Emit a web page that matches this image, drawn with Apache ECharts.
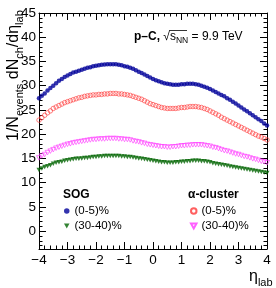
<!DOCTYPE html>
<html><head><meta charset="utf-8">
<script src="https://cdn.jsdelivr.net/npm/echarts@6/dist/echarts.min.js"></script>
<style>html,body{margin:0;padding:0;background:#fff}#c{width:276px;height:288px}</style>
</head><body><div id="c"></div>
<script>
// eta_lab grid
const eta = [-4.0,-3.9,-3.8,-3.7,-3.6,-3.5,-3.4,-3.3,-3.2,-3.1,-3.0,-2.9,-2.8,-2.7,-2.6,-2.5,-2.4,-2.3,-2.2,-2.1,-2.0,-1.9,-1.8,-1.7,-1.6,-1.5,-1.4,-1.3,-1.2,-1.1,-1.0,-0.9,-0.8,-0.7,-0.6,-0.5,-0.4,-0.3,-0.2,-0.1,0.0,0.1,0.2,0.3,0.4,0.5,0.6,0.7,0.8,0.9,1.0,1.1,1.2,1.3,1.4,1.5,1.6,1.7,1.8,1.9,2.0,2.1,2.2,2.3,2.4,2.5,2.6,2.7,2.8,2.9,3.0,3.1,3.2,3.3,3.4,3.5,3.6,3.7,3.8,3.9,4.0];
// SOG (0-5)%
const sogCentral = [27.4,27.9,28.4,29.0,29.5,30.0,30.5,31.0,31.4,31.8,32.1,32.4,32.7,32.9,33.1,33.3,33.5,33.7,33.8,34.0,34.1,34.2,34.3,34.35,34.4,34.4,34.4,34.4,34.3,34.2,34.0,33.9,33.7,33.5,33.2,32.9,32.6,32.3,32.0,31.7,31.4,31.1,30.9,30.7,30.5,30.4,30.3,30.2,30.2,30.2,30.3,30.3,30.4,30.4,30.4,30.3,30.2,30.0,29.8,29.6,29.3,29.0,28.7,28.4,28.1,27.8,27.4,27.1,26.7,26.3,25.9,25.5,25.1,24.7,24.3,23.9,23.5,23.1,22.7,22.2,21.8];
// SOG (30-40)%
const sogPeripheral = [12.6,12.9,13.2,13.4,13.6,13.9,14.1,14.2,14.3,14.5,14.6,14.7,14.8,14.9,14.9,15.0,15.1,15.1,15.2,15.3,15.3,15.4,15.4,15.5,15.5,15.5,15.5,15.5,15.5,15.4,15.4,15.3,15.3,15.2,15.1,15.0,14.9,14.8,14.7,14.6,14.5,14.4,14.3,14.2,14.2,14.1,14.1,14.1,14.2,14.2,14.3,14.3,14.4,14.4,14.5,14.5,14.5,14.4,14.4,14.3,14.2,14.0,13.9,13.8,13.7,13.6,13.5,13.3,13.2,13.1,13.0,12.9,12.8,12.7,12.6,12.5,12.4,12.3,12.2,12.1,12.0];
// alpha-cluster (0-5)%
const alphaCentral = [22.9,23.4,23.9,24.4,24.8,25.3,25.6,25.9,26.2,26.5,26.7,26.9,27.1,27.3,27.5,27.6,27.8,27.9,28.0,28.1,28.1,28.2,28.2,28.3,28.3,28.4,28.4,28.4,28.3,28.3,28.2,28.1,28.0,27.8,27.6,27.4,27.2,26.9,26.6,26.3,26.1,25.9,25.7,25.5,25.4,25.3,25.3,25.3,25.3,25.4,25.5,25.5,25.6,25.7,25.7,25.7,25.6,25.5,25.3,25.1,24.8,24.5,24.2,23.9,23.5,23.2,22.9,22.6,22.3,22.0,21.7,21.4,21.1,20.8,20.5,20.2,19.9,19.6,19.4,19.1,18.8];
// alpha-cluster (30-40)%
const alphaPeripheral = [15.1,15.5,15.8,16.2,16.5,16.8,17.1,17.3,17.5,17.7,17.9,18.0,18.2,18.3,18.4,18.5,18.6,18.7,18.8,18.9,18.9,19.0,19.0,19.0,19.1,19.1,19.1,19.1,19.0,19.0,18.9,18.9,18.8,18.6,18.5,18.4,18.2,18.1,17.9,17.8,17.7,17.6,17.5,17.4,17.4,17.3,17.3,17.4,17.4,17.5,17.6,17.6,17.7,17.7,17.8,17.8,17.8,17.8,17.7,17.6,17.5,17.3,17.2,17.0,16.8,16.6,16.5,16.3,16.1,15.9,15.8,15.6,15.4,15.3,15.1,14.9,14.8,14.6,14.4,14.3,14.1];
const yMajor = [0,5,10,15,20,25,30,35,40,45];
const yMinor = [-3,-2,-1,1,2,3,4,6,7,8,9,11,12,13,14,16,17,18,19,21,22,23,24,26,27,28,29,31,32,33,34,36,37,38,39,41,42,43,44];
const xTicks = [-4,-3,-2,-1,0,1,2,3,4];

const FONT = 'Liberation Sans, Arial, Helvetica, sans-serif';
const tri = 'path://M0,0L10,0L5,9Z';
const pts = arr => eta.map((x, i) => [x, arr[i]]);

const chart = echarts.init(document.getElementById('c'));
const axisLineStyle = {color: '#000', width: 1};
const xBase = {
  type: 'value', min: xTicks[0], max: xTicks[xTicks.length - 1], interval: 1,
  axisLine: {show: true, onZero: false, lineStyle: axisLineStyle},
  axisTick: {show: true, inside: true, length: 7, lineStyle: axisLineStyle},
  minorTick: {show: true, splitNumber: 5, length: 3.5, lineStyle: axisLineStyle},
  splitLine: {show: false}
};
const yBase = {
  type: 'value', min: -3.7, max: 45,
  axisLine: {show: true, onZero: false, lineStyle: axisLineStyle},
  splitLine: {show: false}
};
const noLine = {show: false, onZero: false};
chart.setOption({
  animation: false,
  grid: {left: 39, right: 9, top: 13, bottom: 39, containLabel: false},
  xAxis: [
    Object.assign({}, xBase, {position: 'bottom',
      axisLabel: {show: true, fontSize: 13.5, fontFamily: FONT, color: '#000', margin: 4,
        formatter: v => v < 0 ? '\u2212' + (-v) : String(v)}}),
    Object.assign({}, xBase, {position: 'top', axisLabel: {show: false}})
  ],
  yAxis: [
    Object.assign({}, yBase, {position: 'left',
      axisTick: {show: true, inside: true, length: 7, customValues: yMajor, lineStyle: axisLineStyle},
      axisLabel: {show: true, customValues: yMajor, fontSize: 13.5, fontFamily: FONT, color: '#000', margin: 3}}),
    Object.assign({}, yBase, {position: 'left', axisLine: noLine,
      axisTick: {show: true, inside: true, length: 3.5, customValues: yMinor, lineStyle: axisLineStyle},
      axisLabel: {show: false}}),
    Object.assign({}, yBase, {position: 'right',
      axisTick: {show: true, inside: true, length: 7, customValues: yMajor, lineStyle: axisLineStyle},
      axisLabel: {show: false}}),
    Object.assign({}, yBase, {position: 'right', axisLine: noLine,
      axisTick: {show: true, inside: true, length: 3.5, customValues: yMinor, lineStyle: axisLineStyle},
      axisLabel: {show: false}})
  ],
  legend: [
    {left: 64, top: 203.5, padding: 0, orient: 'vertical', itemWidth: 5.5, itemHeight: 5.5, itemGap: 0,
     data: ['SOG (0-5)%', 'SOG (30-40)%'],
     formatter: n => n.replace(/^\S+ /, ''),
     textStyle: {fontSize: 11.5, fontFamily: FONT, color: '#000', lineHeight: 15}},
    {left: 190, top: 203.5, padding: 0, orient: 'vertical', itemWidth: 5.5, itemHeight: 5.5, itemGap: 0,
     data: ['\u03b1-cluster (0-5)%', '\u03b1-cluster (30-40)%'],
     formatter: n => n.replace(/^\S+ /, ''),
     textStyle: {fontSize: 11.5, fontFamily: FONT, color: '#000', lineHeight: 15}}
  ],
  series: [
    {name: '\u03b1-cluster (0-5)%', type: 'scatter', data: pts(alphaCentral), symbol: 'circle', symbolSize: 4.5,
     itemStyle: {color: 'rgba(0,0,0,0)', borderColor: '#ff3838', borderWidth: 0.8}},
    {name: '\u03b1-cluster (30-40)%', type: 'scatter', data: pts(alphaPeripheral), symbol: tri, symbolSize: [5, 4.5],
     itemStyle: {color: 'rgba(0,0,0,0)', borderColor: '#ff38ff', borderWidth: 0.8}},
    {name: 'SOG (0-5)%', type: 'scatter', data: pts(sogCentral), symbol: 'circle', symbolSize: 4.5,
     itemStyle: {color: '#00009a'}},
    {name: 'SOG (30-40)%', type: 'scatter', data: pts(sogPeripheral), symbol: tri, symbolSize: [5, 4.5],
     itemStyle: {color: '#006400'}}
  ],
  graphic: [
    {type: 'text', x: 14, y: 141, rotation: Math.PI / 2,
     style: {text: '{m|1/N}{s|events}{m| dN}{s|ch}{m|/d\u03b7}{s|lab}', x: 0, y: 0,
       align: 'left', verticalAlign: 'middle', textAlign: 'left', textVerticalAlign: 'middle',
       rich: {m: {fontSize: 16, fontFamily: FONT, lineHeight: 22, fill: '#000', color: '#000'},
              s: {fontSize: 11, fontFamily: FONT, lineHeight: 11, verticalAlign: 'bottom', fill: '#000', color: '#000'}}}},
    {type: 'text', x: 249, y: 277,
     style: {text: '{m|\u03b7}{s|lab}', x: 0, y: 0, align: 'left', verticalAlign: 'middle', textAlign: 'left', textVerticalAlign: 'middle',
       rich: {m: {fontSize: 16, fontFamily: FONT, lineHeight: 22, fill: '#000', color: '#000'},
              s: {fontSize: 11, fontFamily: FONT, lineHeight: 11, verticalAlign: 'bottom', fill: '#000', color: '#000'}}}},
    {type: 'text', x: 134, y: 37,
     style: {text: '{b|p\u2013C,} {m|\u221a}{m|s}{s|NN}{m| = 9.9 TeV}', x: 0, y: 0, align: 'left', verticalAlign: 'middle', textAlign: 'left', textVerticalAlign: 'middle',
       rich: {b: {fontSize: 12, fontWeight: 'bold', fontFamily: FONT, lineHeight: 16, fill: '#000', color: '#000'},
              m: {fontSize: 12, fontFamily: FONT, lineHeight: 16, fill: '#000', color: '#000'},
              s: {fontSize: 8.5, fontFamily: FONT, lineHeight: 8, verticalAlign: 'bottom', fill: '#000', color: '#000'}}}},
    {type: 'line', shape: {x1: 169, y1: 30.5, x2: 187, y2: 30.5}, style: {stroke: '#000', lineWidth: 0.8}},
    {type: 'text', x: 63, y: 195, style: {text: 'SOG', x: 0, y: 0, font: 'bold 12px ' + FONT, fill: '#000', align: 'left', verticalAlign: 'middle', textAlign: 'left', textVerticalAlign: 'middle'}},
    {type: 'text', x: 188, y: 195, style: {text: '\u03b1-cluster', x: 0, y: 0, font: 'bold 12px ' + FONT, fill: '#000', align: 'left', verticalAlign: 'middle', textAlign: 'left', textVerticalAlign: 'middle'}}
  ]
});
</script></body></html>
